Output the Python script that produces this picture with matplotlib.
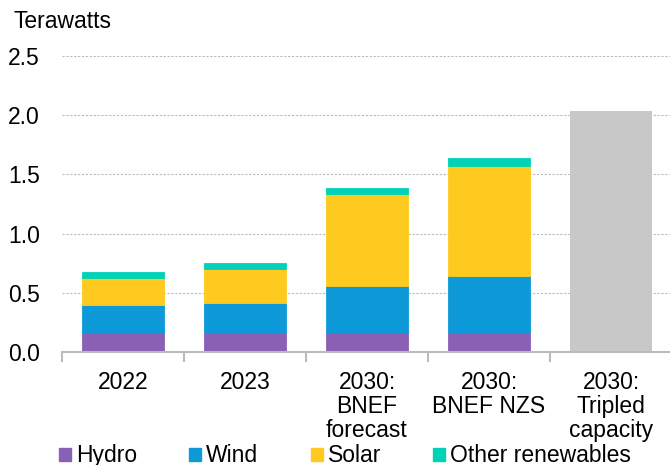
import numpy as np
import matplotlib.pyplot as plt
from matplotlib.patches import Rectangle

plt.rcParams['font.family'] = ['Liberation Sans', 'DejaVu Sans']

categories = ['2022', '2023', '2030:\nBNEF\nforecast', '2030:\nBNEF NZS', '2030:\nTripled\ncapacity']
hydro = [0.16, 0.16, 0.16, 0.16, 0]
wind = [0.24, 0.25, 0.40, 0.48, 0]
solar = [0.225, 0.29, 0.775, 0.93, 0]
other = [0.05, 0.05, 0.05, 0.07, 0]
tripled = [0, 0, 0, 0, 2.035]
series_names = ['Hydro', 'Wind', 'Solar', 'Other renewables']

c_hydro = '#8A60B4'
c_wind = '#0E9AD8'
c_solar = '#FFCA1F'
c_other = '#00D2B8'
c_grey = '#C8C8C8'
fs = 16.5
W, H = 670, 465

fig = plt.figure(figsize=(6.7, 4.65), dpi=100)
ax = fig.add_axes([62/W, 1-352/H, 610/W, (352-56)/H])

x = np.arange(len(categories))
w = 0.67
b = np.zeros(len(categories))
for vals, col in [(hydro, c_hydro), (wind, c_wind), (solar, c_solar), (other, c_other)]:
    ax.bar(x, vals, w, bottom=b, color=col, edgecolor=col, linewidth=0.6, zorder=3)
    b = b + np.array(vals)
ax.bar(x, tripled, w, color=c_grey, zorder=3)

ax.set_xlim(-0.5, 4.5)
ax.set_ylim(0, 2.5)
ax.set_yticks(np.arange(0, 2.51, 0.5))
ax.set_yticklabels(['%.1f' % v for v in np.arange(0, 2.51, 0.5)], fontsize=fs)
ax.yaxis.grid(True, linestyle=(0, (2, 1.5)), color='#BBBBBB', linewidth=0.8, zorder=0)
ax.tick_params(axis='y', length=0, pad=16)

ax.set_xticks(x)
ax.set_xticklabels(categories, fontsize=fs, linespacing=1.05)
ax.tick_params(axis='x', length=0, pad=14)
ax.set_xticks(np.arange(-0.5, 4.6, 1), minor=True)
ax.tick_params(axis='x', which='minor', length=7, width=1.5, color='#BBBBBB')

for s in ['top', 'right', 'left']:
    ax.spines[s].set_visible(False)
ax.spines['bottom'].set_color('#BBBBBB')
ax.spines['bottom'].set_linewidth(1.5)
ax.spines['bottom'].set_zorder(4)

fig.text(13/W, 1-21/H, 'Terawatts', fontsize=fs, va='center', ha='left')

# legend along the bottom, squares placed like the original
leg_x = [59, 189, 311, 433]
for px, name, col in zip(leg_x, series_names, [c_hydro, c_wind, c_solar, c_other]):
    fig.add_artist(Rectangle((px/W, 1-461/H), 12/W, 13/H, color=col, transform=fig.transFigure))
    fig.text((px+17)/W, 1-455/H, name, fontsize=fs, va='center', ha='left')

fig.savefig('out.png', dpi=100)
